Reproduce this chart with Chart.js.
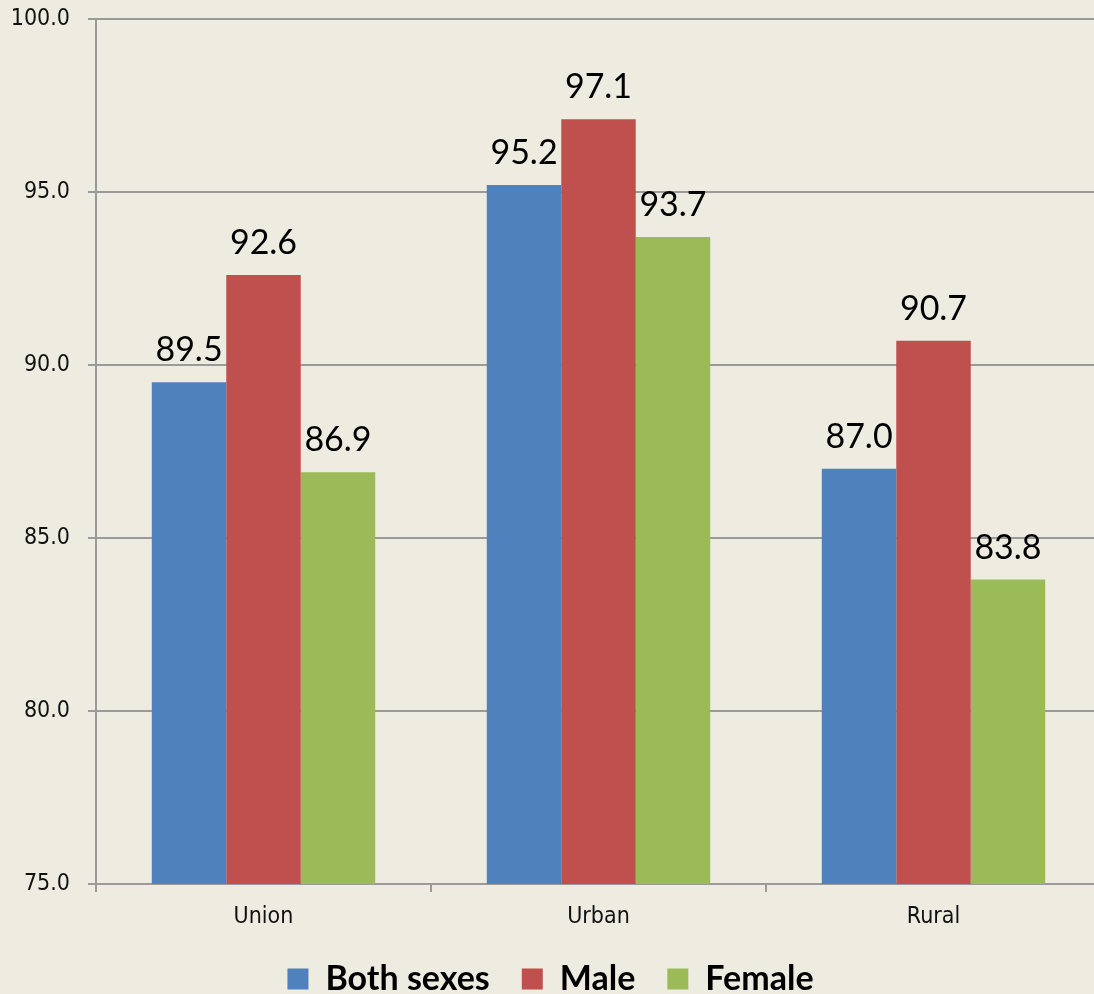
<!DOCTYPE html>
<html>
<head>
<meta charset="utf-8">
<script src="https://cdn.jsdelivr.net/npm/chart.js@4/dist/chart.umd.min.js"></script>
<style>
  html, body { margin: 0; padding: 0; background: #EEEBE0; overflow: hidden; }
  canvas { display: block; }
</style>
</head>
<body>
<canvas id="c" width="1101" height="1006" style="width:1101px;height:1006px"></canvas>
<script>
const categories = ['Union', 'Urban', 'Rural'];
const bothSexes = [89.5, 95.2, 87.0];
const male = [92.6, 97.1, 90.7];
const female = [86.9, 93.7, 83.8];
const seriesNames = ['Both sexes', 'Male', 'Female'];
const yTicks = [75, 80, 85, 90, 95, 100];

const colors = ['#4F81BD', '#C0504D', '#9BBB59'];
const gridColor = '#9A9A9A';
const axisFont = "'DejaVu Sans Condensed', 'DejaVu Sans', sans-serif";

const bgPlugin = {
  id: 'bg',
  beforeDraw(chart) {
    const ctx = chart.ctx;
    ctx.save();
    ctx.fillStyle = '#EEEBE0';
    ctx.fillRect(0, 0, chart.width, chart.height);
    ctx.restore();
  }
};

const labelPlugin = {
  id: 'valueLabels',
  afterDatasetsDraw(chart) {
    const ctx = chart.ctx;
    ctx.save();
    ctx.font = '34px Lato';
    ctx.fillStyle = '#000';
    ctx.textAlign = 'center';
    ctx.textBaseline = 'alphabetic';
    chart.data.datasets.forEach((ds, i) => {
      chart.getDatasetMeta(i).data.forEach((el, j) => {
        ctx.fillText(ds.data[j].toFixed(1), el.x, el.y - 21);
      });
    });
    ctx.restore();
  }
};

new Chart(document.getElementById('c'), {
  type: 'bar',
  data: {
    labels: categories,
    datasets: [
      { label: seriesNames[0], data: bothSexes, backgroundColor: colors[0] },
      { label: seriesNames[1], data: male, backgroundColor: colors[1] },
      { label: seriesNames[2], data: female, backgroundColor: colors[2] }
    ]
  },
  options: {
    responsive: false,
    animation: false,
    layout: { padding: { top: 19, left: 0, right: 0, bottom: 0 } },
    datasets: { bar: { categoryPercentage: 0.667, barPercentage: 1.0 } },
    scales: {
      x: {
        grid: { drawOnChartArea: false, drawTicks: true, tickLength: 8, color: gridColor, lineWidth: 2 },
        border: { color: gridColor, width: 2 },
        ticks: { font: { family: axisFont, size: 23 }, color: '#111', padding: 11 },
        afterFit(scale) { scale.height = 46; scale.paddingLeft = 0; scale.paddingRight = 0; }
      },
      y: {
        min: 75, max: 100,
        afterBuildTicks(scale) { scale.ticks = yTicks.map(v => ({ value: v })); },
        grid: { color: gridColor, lineWidth: 2, drawTicks: true, tickLength: 8 },
        border: { color: gridColor, width: 2 },
        ticks: {
          font: { family: axisFont, size: 23 }, color: '#111', padding: 18,
          callback: v => Number(v).toFixed(1)
        },
        afterFit(scale) { scale.width = 96; scale.paddingTop = 0; scale.paddingBottom = 0; }
      }
    },
    plugins: {
      legend: {
        position: 'bottom',
        labels: {
          font: { family: 'Lato', size: 34, weight: 'bold' },
          color: '#000',
          boxWidth: 21, boxHeight: 21,
          padding: 32
        }
      },
      tooltip: { enabled: false }
    }
  },
  plugins: [bgPlugin, labelPlugin]
});
</script>
</body>
</html>
